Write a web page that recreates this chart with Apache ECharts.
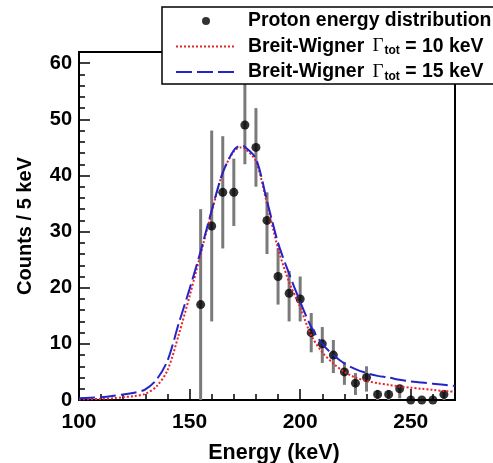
<!DOCTYPE html>
<html lang="en">
<head>
    <meta charset="UTF-8">
    <title>Proton energy distribution</title>
    <script src="https://cdn.jsdelivr.net/npm/echarts@6/dist/echarts.min.js"></script>
    <style>
        html, body { margin: 0; padding: 0; background: #fff; }
    </style>
</head>
<body>
<div id="main" style="width: 493px;height:463px;"></div>
<script>
    // measured points (5 keV bins)
    var energy = [155, 160, 165, 170, 175, 180, 185, 190, 195, 200, 205, 210, 215, 220, 225, 230, 235, 240, 245, 250, 255, 260, 265];
    var counts = [17, 31, 37, 37, 49, 45, 32, 22, 19, 18, 12, 10, 8, 5, 3, 4, 1, 1, 2, 0, 0, 0, 1];
    var errLow = [0, 14, 27, 31, 42, 38, 26, 17, 14, 14, 8.5, 6.6, 4.8, 2.7, 0.9, 1.5, 0, 0, 0.3, 0, 0, 0, 0];
    var errHigh = [34, 48, 47, 43, 57, 52, 37, 27, 23, 22, 15.5, 13, 10.7, 6.8, 4.8, 6, 1.8, 1.8, 2.7, 0, 0, 0, 1.8];

    // fit curves
    var curveX = [100, 105, 110, 115, 120, 125, 130, 135, 140, 145, 150, 155, 160, 165, 170, 173, 175, 180, 185, 190, 195, 200, 205, 210, 215, 220, 225, 230, 235, 240, 245, 250, 255, 260, 265, 270];
    var bw10 = [0.1, 0.15, 0.2, 0.3, 0.5, 0.7, 1.1, 2.4, 5.3, 11.5, 18.5, 26, 33.5, 40.5, 44.3, 45, 44.8, 42.5, 35, 27, 21, 16.5, 11.5, 8.5, 6.5, 5, 4, 3.4, 3, 2.7, 2.4, 2.2, 2, 1.8, 1.6, 1.5];
    var bw15 = [0.3, 0.4, 0.5, 0.7, 1.0, 1.3, 1.9, 3.6, 7, 13.5, 19.8, 26.5, 33.8, 40.5, 44.5, 45.3, 45.1, 43, 35.5, 28, 22.5, 17.5, 13, 10, 8, 6.5, 5.5, 4.8, 4.3, 4, 3.6, 3.3, 3.1, 2.9, 2.7, 2.5];

    var legendNames = ['Proton energy distribution', 'Breit-Wigner 10', 'Breit-Wigner 15'];
    var gammaValues = ['10', '15'];

    var xTicks = [100, 150, 200, 250];
    var yTicks = [0, 10, 20, 30, 40, 50, 60];

    function zip(a, b) {
        return a.map(function (v, i) { return [v, b[i]]; });
    }

    var myChart = echarts.init(document.getElementById('main'));
    var font = '"Liberation Sans", Arial, sans-serif';

    var errData = energy.map(function (e, i) { return [e, errLow[i], errHigh[i]]; })
        .filter(function (d) { return d[2] > d[1]; });

    var option = {
        backgroundColor: '#fff',
        animation: false,
        grid: {
            left: 79, right: 38, top: 52, bottom: 63,
            outerBoundsMode: 'none', containLabel: false,
            show: true, borderColor: '#000', borderWidth: 2, backgroundColor: 'transparent'
        },
        legend: {
            orient: 'vertical',
            left: 162, top: 7,
            padding: [3, 20, 1, 13],
            itemWidth: 60, itemHeight: 8, itemGap: 3.5,
            backgroundColor: '#fff', borderColor: '#000', borderWidth: 1.5,
            data: [
                {name: legendNames[0], icon: 'circle'},
                {name: legendNames[1], itemStyle: {color: 'transparent', borderWidth: 0}},
                {name: legendNames[2], itemStyle: {color: 'transparent', borderWidth: 0}}
            ],
            formatter: function (name) {
                if (name === legendNames[0]) return '{b0|' + name + '}';
                var g = name === legendNames[1] ? gammaValues[0] : gammaValues[1];
                return '{b0|Breit-Wigner }{g|Γ}{s|tot}{b| = ' + g + ' keV}';
            },
            textStyle: {
                fontFamily: font, fontWeight: 'bold', fontSize: 19, color: '#000', lineHeight: 22,
                rich: {
                    b0: {fontFamily: font, fontWeight: 'bold', fontSize: 19.4, color: '#000', padding: [0, 0, 0, 7]},
                    b: {fontFamily: font, fontWeight: 'bold', fontSize: 19.4, color: '#000'},
                    g: {fontFamily: '"Liberation Serif", serif', fontWeight: 'normal', fontSize: 19, color: '#000', padding: [0, 1, 0, 3]},
                    s: {fontFamily: font, fontWeight: 'bold', fontSize: 12, color: '#000', padding: [9, 0, 0, 0]}
                }
            }
        },
        xAxis: [{
            type: 'value', min: 100, max: 270, interval: 50,
            name: 'Energy (keV)', nameLocation: 'middle', nameGap: 42,
            nameTextStyle: {fontFamily: font, fontWeight: 'bold', fontSize: 21.5, color: '#000', padding: [0, 0, 0, 14]},
            axisLine: {show: true, onZero: false, lineStyle: {color: '#000', width: 2}},
            axisTick: {show: true, inside: true, length: 11, lineStyle: {color: '#000', width: 1.5}},
            axisLabel: {
                fontFamily: font, fontWeight: 'bold', fontSize: 21, color: '#000', margin: 12,
                showMaxLabel: false,
                formatter: function (v) { return xTicks.indexOf(v) >= 0 ? String(v) : ''; }
            },
            splitLine: {show: false}
        }, {
            type: 'value', min: 100, max: 270, interval: 10, position: 'bottom',
            axisLine: {show: false},
            axisTick: {show: true, inside: true, length: 6, lineStyle: {color: '#000', width: 1.5}},
            axisLabel: {show: false},
            splitLine: {show: false}
        }],
        yAxis: [{
            type: 'value', min: 0, max: 62, interval: 10,
            name: 'Counts / 5 keV', nameLocation: 'middle', nameGap: 44,
            nameTextStyle: {fontFamily: font, fontWeight: 'bold', fontSize: 20, color: '#000'},
            axisLine: {show: true, onZero: false, lineStyle: {color: '#000', width: 2}},
            axisTick: {show: true, inside: true, length: 11, lineStyle: {color: '#000', width: 1.5}},
            axisLabel: {
                fontFamily: font, fontWeight: 'bold', fontSize: 20, color: '#000', margin: 7,
                showMaxLabel: false,
                formatter: function (v) { return yTicks.indexOf(v) >= 0 ? String(v) : ''; }
            },
            splitLine: {show: false}
        }, {
            type: 'value', min: 0, max: 62, interval: 2, position: 'left',
            axisLine: {show: false},
            axisTick: {show: true, inside: true, length: 6, lineStyle: {color: '#000', width: 1.5}},
            axisLabel: {show: false},
            splitLine: {show: false}
        }],
        series: [
            {
                name: 'errors',
                type: 'custom',
                z: 1,
                data: errData,
                renderItem: function (params, api) {
                    var p1 = api.coord([api.value(0), api.value(1)]);
                    var p2 = api.coord([api.value(0), api.value(2)]);
                    return {
                        type: 'line',
                        shape: {x1: p1[0], y1: p1[1], x2: p2[0], y2: p2[1]},
                        style: {stroke: '#7a7a7a', lineWidth: 3}
                    };
                }
            },
            {
                name: legendNames[0],
                type: 'scatter',
                z: 2,
                symbol: 'circle', symbolSize: 9,
                itemStyle: {color: '#000'},
                data: zip(energy, counts)
            },
            {
                name: legendNames[1],
                type: 'line',
                z: 3,
                smooth: 0.3, symbol: 'none',
                lineStyle: {color: '#e8232a', width: 2, type: [2, 2]},
                itemStyle: {color: '#e8232a'},
                data: zip(curveX, bw10)
            },
            {
                name: legendNames[2],
                type: 'line',
                z: 4,
                smooth: 0.3, symbol: 'none',
                lineStyle: {color: '#2424c8', width: 2, type: [16, 5]},
                itemStyle: {color: '#2424c8'},
                data: zip(curveX, bw15)
            }
        ]
    };
    myChart.setOption(option);
</script>
</body>
</html>
